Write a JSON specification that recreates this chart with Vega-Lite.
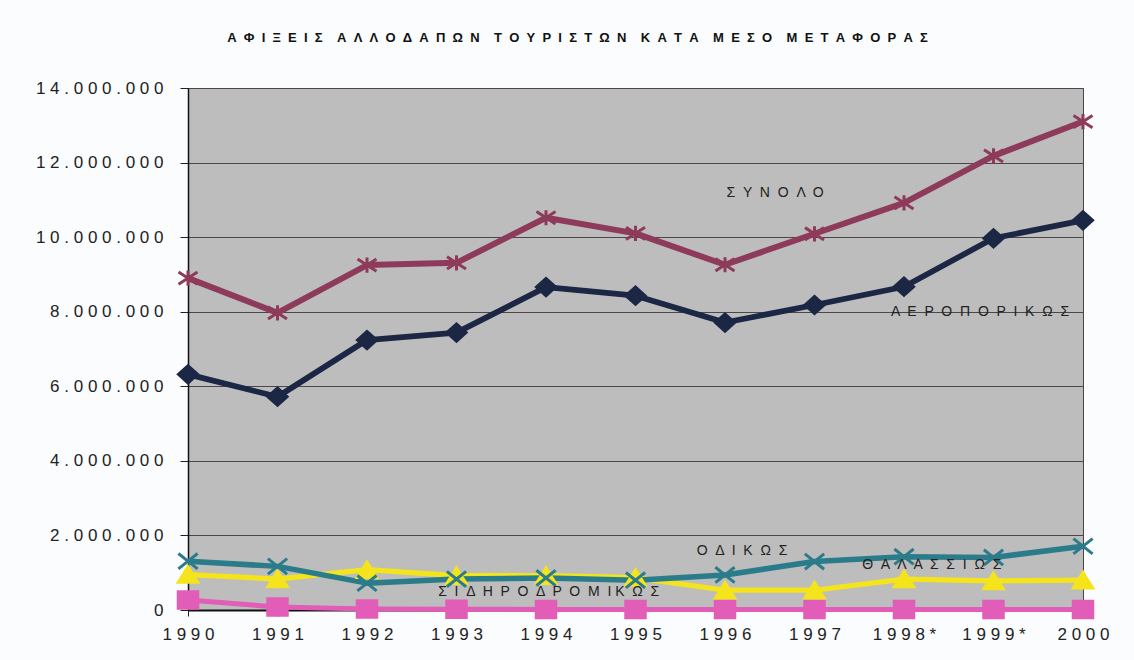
{
  "$schema": "https://vega.github.io/schema/vega-lite/v6.json",
  "width": 895,
  "height": 522,
  "autosize": {"type": "none"},
  "padding": {"left": 188, "top": 88, "right": 51, "bottom": 50},
  "background": "#fbfcfd",
  "config": {
    "font": "Liberation Sans",
    "view": {"fill": "#bdbdbd", "stroke": "#4a4444", "strokeWidth": 1}
  },
  "title": {
    "text": "Α \u00a0Φ \u00a0Ι \u00a0Ξ \u00a0Ε \u00a0Ι \u00a0Σ \u00a0\u00a0\u00a0Α \u00a0Λ \u00a0Λ \u00a0Ο \u00a0Δ \u00a0Α \u00a0Π \u00a0Ω \u00a0Ν \u00a0\u00a0\u00a0Τ \u00a0Ο \u00a0Υ \u00a0Ρ \u00a0Ι \u00a0Σ \u00a0Τ \u00a0Ω \u00a0Ν \u00a0\u00a0\u00a0Κ \u00a0Α \u00a0Τ \u00a0Α \u00a0\u00a0\u00a0Μ \u00a0Ε \u00a0Σ \u00a0Ο \u00a0\u00a0\u00a0Μ \u00a0Ε \u00a0Τ \u00a0Α \u00a0Φ \u00a0Ο \u00a0Ρ \u00a0Α \u00a0Σ",
    "fontSize": 13,
    "fontWeight": "bold",
    "color": "#111111",
    "anchor": "middle",
    "dx": -58,
    "offset": 34,
    "font": "Liberation Sans"
  },
  "datasets": {
    "series": [
      {"year": 1990, "series": "ΣΙΔΗΡΟΔΡΟΜΙΚΩΣ", "value": 270000},
      {"year": 1991, "series": "ΣΙΔΗΡΟΔΡΟΜΙΚΩΣ", "value": 80000},
      {"year": 1992, "series": "ΣΙΔΗΡΟΔΡΟΜΙΚΩΣ", "value": 25000},
      {"year": 1993, "series": "ΣΙΔΗΡΟΔΡΟΜΙΚΩΣ", "value": 20000},
      {"year": 1994, "series": "ΣΙΔΗΡΟΔΡΟΜΙΚΩΣ", "value": 15000},
      {"year": 1995, "series": "ΣΙΔΗΡΟΔΡΟΜΙΚΩΣ", "value": 15000},
      {"year": 1996, "series": "ΣΙΔΗΡΟΔΡΟΜΙΚΩΣ", "value": 15000},
      {"year": 1997, "series": "ΣΙΔΗΡΟΔΡΟΜΙΚΩΣ", "value": 15000},
      {"year": 1998, "series": "ΣΙΔΗΡΟΔΡΟΜΙΚΩΣ", "value": 15000},
      {"year": 1999, "series": "ΣΙΔΗΡΟΔΡΟΜΙΚΩΣ", "value": 15000},
      {"year": 2000, "series": "ΣΙΔΗΡΟΔΡΟΜΙΚΩΣ", "value": 15000},
      {"year": 1990, "series": "ΘΑΛΑΣΣΙΩΣ", "value": 950000},
      {"year": 1991, "series": "ΘΑΛΑΣΣΙΩΣ", "value": 830000},
      {"year": 1992, "series": "ΘΑΛΑΣΣΙΩΣ", "value": 1080000},
      {"year": 1993, "series": "ΘΑΛΑΣΣΙΩΣ", "value": 920000},
      {"year": 1994, "series": "ΘΑΛΑΣΣΙΩΣ", "value": 920000},
      {"year": 1995, "series": "ΘΑΛΑΣΣΙΩΣ", "value": 870000},
      {"year": 1996, "series": "ΘΑΛΑΣΣΙΩΣ", "value": 530000},
      {"year": 1997, "series": "ΘΑΛΑΣΣΙΩΣ", "value": 530000},
      {"year": 1998, "series": "ΘΑΛΑΣΣΙΩΣ", "value": 830000},
      {"year": 1999, "series": "ΘΑΛΑΣΣΙΩΣ", "value": 780000},
      {"year": 2000, "series": "ΘΑΛΑΣΣΙΩΣ", "value": 800000},
      {"year": 1990, "series": "ΟΔΙΚΩΣ", "value": 1310000},
      {"year": 1991, "series": "ΟΔΙΚΩΣ", "value": 1170000},
      {"year": 1992, "series": "ΟΔΙΚΩΣ", "value": 720000},
      {"year": 1993, "series": "ΟΔΙΚΩΣ", "value": 830000},
      {"year": 1994, "series": "ΟΔΙΚΩΣ", "value": 860000},
      {"year": 1995, "series": "ΟΔΙΚΩΣ", "value": 800000},
      {"year": 1996, "series": "ΟΔΙΚΩΣ", "value": 940000},
      {"year": 1997, "series": "ΟΔΙΚΩΣ", "value": 1300000},
      {"year": 1998, "series": "ΟΔΙΚΩΣ", "value": 1430000},
      {"year": 1999, "series": "ΟΔΙΚΩΣ", "value": 1410000},
      {"year": 2000, "series": "ΟΔΙΚΩΣ", "value": 1710000},
      {"year": 1990, "series": "ΑΕΡΟΠΟΡΙΚΩΣ", "value": 6320000},
      {"year": 1991, "series": "ΑΕΡΟΠΟΡΙΚΩΣ", "value": 5720000},
      {"year": 1992, "series": "ΑΕΡΟΠΟΡΙΚΩΣ", "value": 7240000},
      {"year": 1993, "series": "ΑΕΡΟΠΟΡΙΚΩΣ", "value": 7440000},
      {"year": 1994, "series": "ΑΕΡΟΠΟΡΙΚΩΣ", "value": 8660000},
      {"year": 1995, "series": "ΑΕΡΟΠΟΡΙΚΩΣ", "value": 8430000},
      {"year": 1996, "series": "ΑΕΡΟΠΟΡΙΚΩΣ", "value": 7710000},
      {"year": 1997, "series": "ΑΕΡΟΠΟΡΙΚΩΣ", "value": 8180000},
      {"year": 1998, "series": "ΑΕΡΟΠΟΡΙΚΩΣ", "value": 8670000},
      {"year": 1999, "series": "ΑΕΡΟΠΟΡΙΚΩΣ", "value": 9970000},
      {"year": 2000, "series": "ΑΕΡΟΠΟΡΙΚΩΣ", "value": 10450000},
      {"year": 1990, "series": "ΣΥΝΟΛΟ", "value": 8900000},
      {"year": 1991, "series": "ΣΥΝΟΛΟ", "value": 7970000},
      {"year": 1992, "series": "ΣΥΝΟΛΟ", "value": 9250000},
      {"year": 1993, "series": "ΣΥΝΟΛΟ", "value": 9310000},
      {"year": 1994, "series": "ΣΥΝΟΛΟ", "value": 10520000},
      {"year": 1995, "series": "ΣΥΝΟΛΟ", "value": 10100000},
      {"year": 1996, "series": "ΣΥΝΟΛΟ", "value": 9260000},
      {"year": 1997, "series": "ΣΥΝΟΛΟ", "value": 10090000},
      {"year": 1998, "series": "ΣΥΝΟΛΟ", "value": 10920000},
      {"year": 1999, "series": "ΣΥΝΟΛΟ", "value": 12180000},
      {"year": 2000, "series": "ΣΥΝΟΛΟ", "value": 13100000}
    ],
    "labels": [
      {"label": "Σ \u00a0Υ \u00a0Ν \u00a0Ο \u00a0Λ \u00a0Ο", "year": 1996.56, "value": 11180000},
      {"label": "Α \u00a0Ε \u00a0Ρ \u00a0Ο \u00a0Π \u00a0Ο \u00a0Ρ \u00a0Ι \u00a0Κ \u00a0Ω \u00a0Σ", "year": 1998.85, "value": 7990000},
      {"label": "Ο \u00a0Δ \u00a0Ι \u00a0Κ \u00a0Ω \u00a0Σ", "year": 1996.19, "value": 1580000},
      {"label": "Θ \u00a0Α \u00a0Λ \u00a0Α \u00a0Σ \u00a0Σ \u00a0Ι \u00a0Ω \u00a0Σ", "year": 1998.31, "value": 1210000},
      {"label": "Σ \u00a0Ι \u00a0Δ \u00a0Η \u00a0Ρ \u00a0Ο \u00a0Δ \u00a0Ρ \u00a0Ο \u00a0Μ \u00a0Ι Κ \u00a0Ω \u00a0Σ", "year": 1994.03, "value": 480000}
    ]
  },
  "encoding": {
    "x": {
      "field": "year",
      "type": "quantitative",
      "scale": {"domain": [1990, 2000], "nice": false, "zero": false},
      "axis": {
        "title": null,
        "values": [1990, 1991, 1992, 1993, 1994, 1995, 1996, 1997, 1998, 1999, 2000],
        "labelExpr": "join(split((datum.value == 1998 || datum.value == 1999) ? (datum.value + '*') : ('' + datum.value), ''), ' ')",
        "grid": false,
        "domainColor": "#111111",
        "domainWidth": 2,
        "tickColor": "#222222",
        "tickSize": 6,
        "labelPadding": 10,
        "labelFontSize": 17,
        "labelColor": "#222222",
        "labelFont": "Liberation Sans",
        "labelFlush": false,
        "labelOverlap": false
      }
    },
    "y": {
      "field": "value",
      "type": "quantitative",
      "scale": {"domain": [0, 14000000], "nice": false},
      "axis": {
        "title": null,
        "values": [0, 2000000, 4000000, 6000000, 8000000, 10000000, 12000000, 14000000],
        "labelExpr": "join(split(replace(format(datum.value, ','), /,/g, '.'), ''), ' ')",
        "grid": true,
        "gridColor": "#4d4646",
        "gridWidth": 1.2,
        "domainColor": "#111111",
        "domainWidth": 1.5,
        "tickColor": "#222222",
        "tickSize": 8,
        "labelPadding": 17,
        "labelFontSize": 17,
        "labelColor": "#222222",
        "labelFont": "Liberation Sans",
        "labelOverlap": false
      }
    }
  },
  "layer": [
    {
      "data": {"name": "series"},
      "mark": {"type": "line", "strokeJoin": "round"},
      "encoding": {
        "color": {
          "field": "series",
          "type": "nominal",
          "scale": {
            "domain": ["ΣΙΔΗΡΟΔΡΟΜΙΚΩΣ", "ΘΑΛΑΣΣΙΩΣ", "ΟΔΙΚΩΣ", "ΑΕΡΟΠΟΡΙΚΩΣ", "ΣΥΝΟΛΟ"],
            "range": ["#e25db8", "#f4e41c", "#2b7c8a", "#1b2744", "#8e3b5b"]
          },
          "legend": null
        },
        "strokeWidth": {
          "field": "series",
          "type": "nominal",
          "scale": {
            "domain": ["ΣΙΔΗΡΟΔΡΟΜΙΚΩΣ", "ΘΑΛΑΣΣΙΩΣ", "ΟΔΙΚΩΣ", "ΑΕΡΟΠΟΡΙΚΩΣ", "ΣΥΝΟΛΟ"],
            "range": [5, 6, 6, 4, 6.5]
          },
          "legend": null
        }
      }
    },
    {
      "data": {"name": "series"},
      "mark": {"type": "point", "filled": true, "opacity": 1, "strokeWidth": 3},
      "encoding": {
        "color": {
          "field": "series",
          "type": "nominal",
          "scale": {
            "domain": ["ΣΙΔΗΡΟΔΡΟΜΙΚΩΣ", "ΘΑΛΑΣΣΙΩΣ", "ΟΔΙΚΩΣ", "ΑΕΡΟΠΟΡΙΚΩΣ", "ΣΥΝΟΛΟ"],
            "range": ["#e25db8", "#f4e41c", "#2b7c8a", "#1b2744", "#8e3b5b"]
          },
          "legend": null
        },
        "stroke": {
          "field": "series",
          "type": "nominal",
          "scale": {
            "domain": ["ΣΙΔΗΡΟΔΡΟΜΙΚΩΣ", "ΘΑΛΑΣΣΙΩΣ", "ΟΔΙΚΩΣ", "ΑΕΡΟΠΟΡΙΚΩΣ", "ΣΥΝΟΛΟ"],
            "range": ["#e25db8", "#f4e41c", "#2b7c8a", "#1b2744", "#8e3b5b"]
          },
          "legend": null
        },
        "shape": {
          "field": "series",
          "type": "nominal",
          "scale": {
            "domain": ["ΣΙΔΗΡΟΔΡΟΜΙΚΩΣ", "ΘΑΛΑΣΣΙΩΣ", "ΟΔΙΚΩΣ", "ΑΕΡΟΠΟΡΙΚΩΣ", "ΣΥΝΟΛΟ"],
            "range": [
              "M-1,-0.85L1,-0.85L1,0.85L-1,0.85Z",
              "M0,-0.8L1,0.8L-1,0.8Z",
              "M-1,-0.8L1,0.8M-1,0.8L1,-0.8",
              "M-1,0L0,-0.9L1,0L0,0.9Z",
              "M-1,-0.65L1,0.65M-1,0.65L1,-0.65M0,-0.8L0,0.8"
            ]
          },
          "legend": null
        },
        "size": {
          "field": "series",
          "type": "nominal",
          "scale": {
            "domain": ["ΣΙΔΗΡΟΔΡΟΜΙΚΩΣ", "ΘΑΛΑΣΣΙΩΣ", "ΟΔΙΚΩΣ", "ΑΕΡΟΠΟΡΙΚΩΣ", "ΣΥΝΟΛΟ"],
            "range": [380, 360, 550, 280, 900]
          },
          "legend": null
        }
      }
    },
    {
      "data": {"name": "labels"},
      "mark": {"type": "text", "fontSize": 14, "color": "#222222", "font": "Liberation Sans", "align": "center", "baseline": "middle"},
      "encoding": {
        "text": {"field": "label"}
      }
    }
  ]
}
